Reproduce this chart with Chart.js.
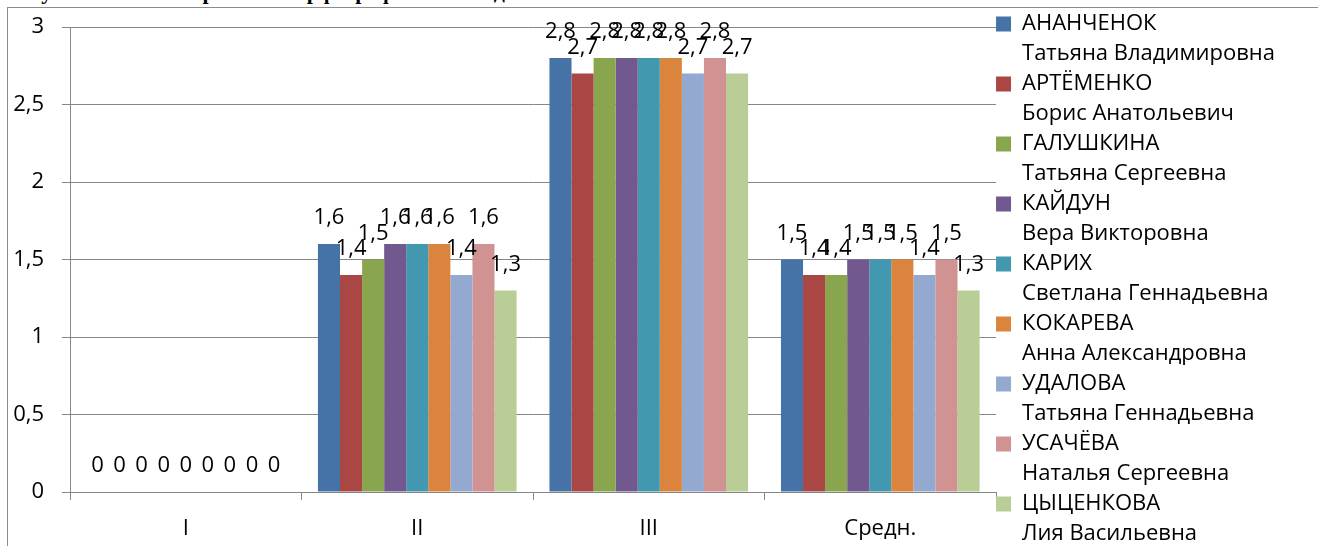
<!DOCTYPE html>
<html lang="ru">
<head>
<meta charset="utf-8">
<title>Диаграмма</title>
<script src="https://cdn.jsdelivr.net/npm/chart.js@4.4.1/dist/chart.umd.min.js"></script>
<style>
  html, body { margin: 0; padding: 0; background: #fff; overflow: hidden; }
  #wrap { position: relative; width: 1318px; height: 546px; overflow: hidden; }
  #frame { position: absolute; left: 7px; top: 7px; width: 1400px; height: 600px; border: 1px solid #8c8c8c; box-sizing: border-box; }
  #title { position: absolute; left: 10px; top: -19px; font: bold 22px/22px "Liberation Serif", serif; white-space: nowrap; color: #000; }
  #chartBox { position: absolute; left: 0; top: 0; width: 1318px; height: 546px; }
</style>
</head>
<body>
<div id="wrap">
  <div id="title">Результаты мониторинга по орфографии 2013 года</div>
  <div id="frame"></div>
  <div id="chartBox"><canvas id="chart"></canvas></div>
</div>
<script>
const FONT = '"Open Sans", "Noto Sans", sans-serif';
const FONT_SIZE = 22;

const categories = ["I", "II", "III", "Средн."];
const yTicks = [0, 0.5, 1, 1.5, 2, 2.5, 3];

const teacherNames = [
    ["АНАНЧЕНОК", "Татьяна Владимировна"],
    ["АРТЁМЕНКО", "Борис Анатольевич"],
    ["ГАЛУШКИНА", "Татьяна Сергеевна"],
    ["КАЙДУН", "Вера Викторовна"],
    ["КАРИХ", "Светлана Геннадьевна"],
    ["КОКАРЕВА", "Анна Александровна"],
    ["УДАЛОВА", "Татьяна Геннадьевна"],
    ["УСАЧЁВА", "Наталья Сергеевна"],
    ["ЦЫЦЕНКОВА", "Лия Васильевна"],
];

const ananchenok  = [0, 1.6, 2.8, 1.5];
const artemenko   = [0, 1.4, 2.7, 1.4];
const galushkina  = [0, 1.5, 2.8, 1.4];
const kaidun      = [0, 1.6, 2.8, 1.5];
const karikh      = [0, 1.6, 2.8, 1.5];
const kokareva    = [0, 1.6, 2.8, 1.5];
const udalova     = [0, 1.4, 2.7, 1.4];
const usacheva    = [0, 1.6, 2.8, 1.5];
const tsytsenkova = [0, 1.3, 2.7, 1.3];

const seriesValues = [ananchenok, artemenko, galushkina, kaidun, karikh, kokareva, udalova, usacheva, tsytsenkova];
const seriesColors = ["#4572A7", "#AA4643", "#89A54E", "#71588F", "#4198AF", "#DB843D", "#93A9CF", "#D19392", "#B9CD96"];

const GRID = "#868686";

function fmt(v) {
    return String(v).replace(".", ",");
}

// value labels above each bar, Excel style
const barLabels = {
    id: "barLabels",
    afterDatasetsDraw(chart) {
        const ctx = chart.ctx;
        ctx.save();
        ctx.font = FONT_SIZE + "px " + FONT;
        ctx.fillStyle = "#000";
        ctx.textAlign = "center";
        ctx.textBaseline = "middle";
        chart.data.datasets.forEach((ds, i) => {
            const meta = chart.getDatasetMeta(i);
            meta.data.forEach((bar, j) => {
                ctx.fillText(fmt(ds.data[j]), bar.x, bar.y - 26);
            });
        });
        ctx.restore();
    }
};

function initChart() {
    const ctx = document.getElementById("chart").getContext("2d");
    new Chart(ctx, {
        type: "bar",
        data: {
            labels: categories,
            datasets: seriesValues.map((vals, i) => ({
                label: teacherNames[i].join(" "),
                data: vals,
                backgroundColor: seriesColors[i],
                borderWidth: 0,
                categoryPercentage: 0.858,
                barPercentage: 1.0,
            })),
        },
        options: {
            responsive: true,
            maintainAspectRatio: false,
            animation: false,
            layout: { padding: { top: 13, bottom: -20, left: 0, right: 33 } },
            plugins: {
                title: { display: false },
                tooltip: { enabled: false },
                legend: {
                    position: "right",
                    align: "start",
                    labels: {
                        boxWidth: 15,
                        boxHeight: 15,
                        padding: 0,
                        color: "#000",
                        font: { family: FONT, size: FONT_SIZE, lineHeight: 30 / FONT_SIZE },
                        generateLabels: chart => chart.data.datasets.map((ds, i) => ({
                            text: teacherNames[i],
                            fillStyle: ds.backgroundColor,
                            strokeStyle: ds.backgroundColor,
                            lineWidth: 0,
                            hidden: false,
                            datasetIndex: i,
                        })),
                    },
                },
            },
            scales: {
                x: {
                    grid: { display: true, drawOnChartArea: false, drawTicks: true, tickLength: 8, color: GRID, offset: true },
                    border: { color: GRID, width: 1 },
                    ticks: { color: "#000", font: { family: FONT, size: FONT_SIZE }, padding: 16 },
                    afterFit: scale => { scale.height = 74; },
                },
                y: {
                    min: 0,
                    max: 3,
                    afterBuildTicks: scale => { scale.ticks = yTicks.map(v => ({ value: v })); },
                    grid: { color: GRID, tickLength: 8, drawTicks: true },
                    border: { color: GRID, width: 1 },
                    ticks: { color: "#000", font: { family: FONT, size: FONT_SIZE }, padding: 18, callback: v => fmt(v) },
                    afterFit: scale => { scale.width = 70; scale.paddingTop = 27; },
                },
            },
        },
        plugins: [barLabels],
    });
}

document.addEventListener("DOMContentLoaded", initChart);
</script>
</body>
</html>
